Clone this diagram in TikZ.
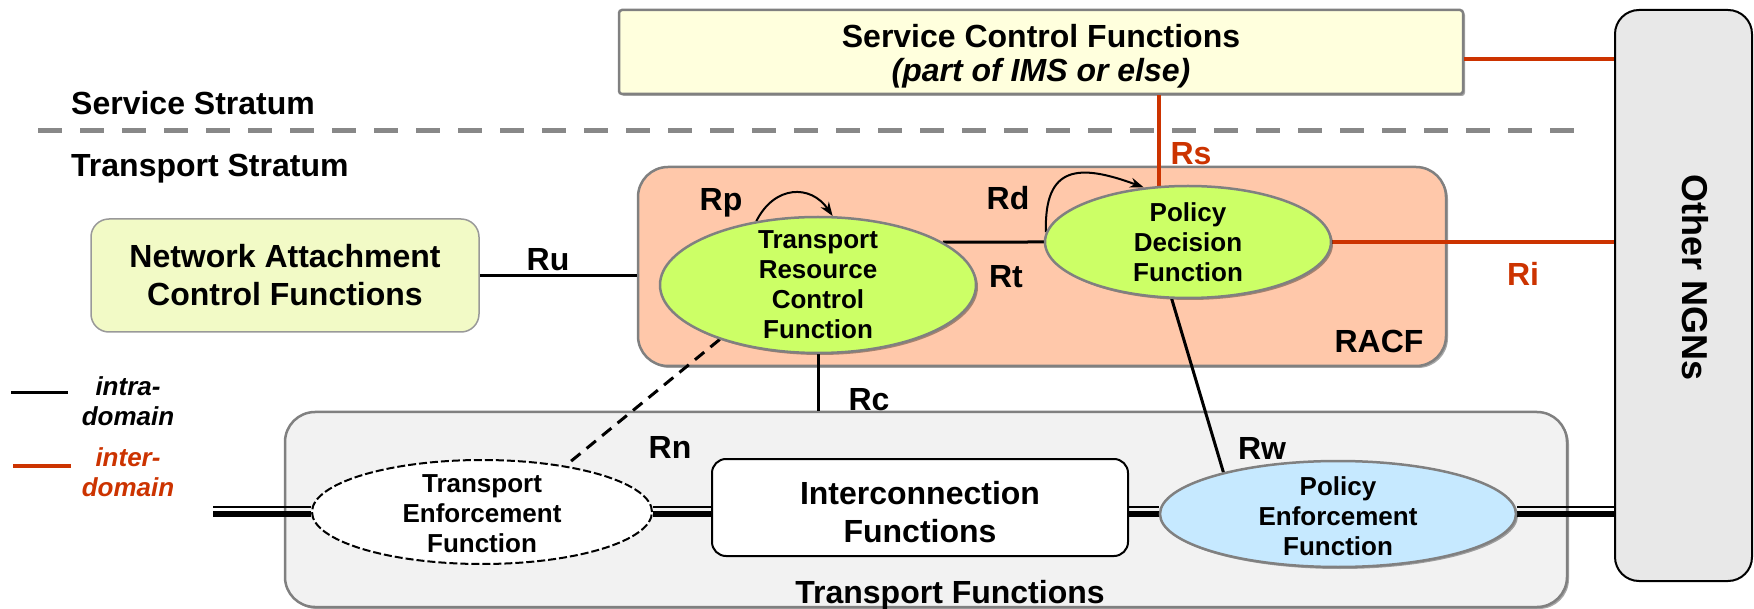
\documentclass[tikz,border=0pt]{standalone}
\usepackage{fontspec}
\setmainfont{Liberation Sans}
\usetikzlibrary{shapes.geometric,arrows.meta,shadows}
\pgfdeclarelayer{bg}
\pgfdeclarelayer{fg}
\pgfsetlayers{bg,main,fg}
\definecolor{scffill}{HTML}{FFFFDD}
\definecolor{racffill}{HTML}{FFC8AA}
\definecolor{nacffill}{HTML}{F2FAC6}
\definecolor{fgreen}{HTML}{CCFF66}
\definecolor{fblue}{HTML}{C6E9FF}
\definecolor{tfill}{HTML}{F2F2F2}
\definecolor{ngnfill}{HTML}{E8E8E8}
\definecolor{xred}{HTML}{CC3300}
\definecolor{edgegray}{HTML}{808080}
\definecolor{stratgray}{HTML}{888888}
\newcommand{\dgBig}{\fontsize{32}{38}\selectfont\bfseries}
\newcommand{\dgScf}{\fontsize{32}{34}\selectfont\bfseries}
\newcommand{\dgMid}{\fontsize{26}{30}\selectfont\bfseries}
\newcommand{\dgNgn}{\fontsize{36}{42}\selectfont\bfseries}
\tikzset{
  panel/.style={rectangle, draw=edgegray, line width=2.5pt, inner sep=0pt, align=center, font=\dgBig},
  oval/.style={ellipse, draw=edgegray, line width=2.5pt, inner sep=0pt},
  ovaltext/.style={align=center, font=\dgMid, inner sep=0pt},
  softshadow/.style={drop shadow={shadow xshift=2pt, shadow yshift=-2pt, opacity=0.35, fill=black}},
  reflabel/.style={anchor=base, font=\dgBig, inner sep=0pt},
  intra/.style={line width=3pt, black},
  inter/.style={line width=4pt, xred},
  trunkthick/.style={line width=6pt, black},
  trunkthin/.style={line width=2pt, black},
  hop/.style={line width=2pt, -{Stealth[length=14pt,width=10pt]}},
}
\begin{document}
\begin{tikzpicture}[x=1pt,y=-1pt]
\useasboundingbox (0,0) rectangle (1754,609);

% boxes and the stratum divider
\begin{pgfonlayer}{bg}
  \coordinate (div-l) at (38,131);
  \coordinate (div-r) at (1575,131);
  \draw[stratgray, line width=5pt, dash pattern=on 24pt off 18pt] (div-l) -- (div-r);
  \node[panel, fill=scffill, rounded corners=3pt, minimum width=844pt, minimum height=84pt, softshadow] (scf) at (1041,52) {};
  \node[rectangle, draw=black, line width=2pt, fill=ngnfill, rounded corners=24pt, minimum width=137pt, minimum height=571pt, inner sep=0pt] (ngn) at (1683.5,295.5) {};
  \node[panel, fill=racffill, rounded corners=30pt, minimum width=808pt, minimum height=199pt, softshadow] (racf) at (1042,266.5) {};
  \node[panel, draw=edgegray!80, line width=1.5pt, fill=nacffill, rounded corners=18pt, minimum width=388pt, minimum height=113pt] (nacf) at (285,275.5)
    {Network Attachment\\Control Functions};
  \node[panel, fill=tfill, rounded corners=30pt, minimum width=1282pt, minimum height=195pt, softshadow] (tf) at (926,509.5) {};
\end{pgfonlayer}

% stratum and area captions
\node[align=center, font=\dgScf, inner sep=0pt] (scf-t) at ([yshift=-4pt]scf)
  {Service Control Functions\\\itshape(part of IMS or else)};
\node[anchor=base west, font=\dgBig, inner sep=0pt] (svc) at (71,115) {Service Stratum};
\node[anchor=base west, font=\dgBig, inner sep=0pt] (trn) at (71,177) {Transport Stratum};
\node[font=\dgNgn, rotate=-90, inner sep=0pt] (ngn-t) at (1695,278) {Other NGNs};
\node[reflabel] (racf-t) at (1379,353) {RACF};
\node[reflabel] (tf-t) at (950,603) {Transport Functions};

% functional entities
\begin{pgfonlayer}{fg}
  \node[oval, fill=fgreen, minimum width=316pt, minimum height=136pt, softshadow] (trcf) at (818,285) {};
  \node[ovaltext] (trcf-t) at (trcf) {Transport\\Resource\\Control\\Function};
  \node[oval, fill=fgreen, minimum width=286pt, minimum height=112pt, softshadow] (pdf) at (1188,242) {};
  \node[ovaltext] (pdf-t) at (pdf) {Policy\\Decision\\Function};
  \node[oval, draw=black, line width=2pt, dash pattern=on 8pt off 3pt, fill=white, minimum width=340pt, minimum height=104pt] (tef) at (482,512) {};
  \node[ovaltext] (tef-t) at ([yshift=-2pt]tef) {Transport\\Enforcement\\Function};
  \node[rectangle, draw=black, line width=2pt, fill=white, rounded corners=14pt, minimum width=416pt, minimum height=97pt, inner sep=0pt] (ic) at (920,507.5) {};
  \node[align=center, font=\dgBig, inner sep=0pt] (ic-t) at ([yshift=-5pt]ic) {Interconnection\\Functions};
  \node[oval, fill=fblue, minimum width=356pt, minimum height=106pt, softshadow] (pef) at (1338,514) {};
  \node[ovaltext] (pef-t) at ([yshift=-2pt]pef) {Policy\\Enforcement\\Function};
\end{pgfonlayer}

% reference points
\draw[intra] (nacf.east) -- (nacf.east -| racf.west);
\draw[intra] (trcf.19) -- (pdf.west);
\draw[intra] (trcf.south) -- (trcf.south |- tf.north);
\draw[intra] (pdf.254) -- (pef.160);
\draw[intra, dash pattern=on 12pt off 8pt] (trcf.209) -- (tef.29);
\draw[inter] (pdf.117) -- (pdf.117 |- scf.south);
\draw[inter] (pdf.east) -- (pdf.east -| ngn.west);
\coordinate (scf-r) at ([yshift=-7pt]scf.east);
\draw[inter] (scf-r) -- (scf-r -| ngn.west);
\draw[hop] (trcf.134) .. controls +(18,-36) and +(-22,-32) .. (trcf.78);
\draw[hop] (pdf.176) .. controls +(-2,-67) and +(-65,-24) .. (pdf.129);

% transport path through the enforcement points
\coordinate (trunk-in) at (213,512);
\coordinate (t1) at (tef.east -| ic.west);
\coordinate (t2) at (ic.east |- tef.east);
\coordinate (t3) at (pef.west |- tef.east);
\coordinate (t4) at (pef.east |- tef.east);
\coordinate (t5) at (ngn.west |- tef.east);
\foreach \a/\b in {trunk-in/tef.west, tef.east/t1, t2/t3, t4/t5} {
  \draw[trunkthick] ([yshift=-2pt]\a) -- ([yshift=-2pt]\b);
  \draw[trunkthin] ([yshift=5pt]\a) -- ([yshift=5pt]\b);
}

% reference point names
\node[reflabel] (rp) at (721,211) {Rp};
\node[reflabel] (rd) at (1008,210) {Rd};
\node[reflabel] (rt) at (1006,288) {Rt};
\node[reflabel, text=xred] (rs) at (1191,165) {Rs};
\node[reflabel, text=xred] (ri) at (1523,286) {Ri};
\node[reflabel] (ru) at (548,271) {Ru};
\node[reflabel] (rc) at (869,410) {Rc};
\node[reflabel] (rn) at (670,458) {Rn};
\node[reflabel] (rw) at (1262,459) {Rw};

% legend
\coordinate (leg1a) at (11,393);
\coordinate (leg1b) at (68,393);
\coordinate (leg2a) at (13,466);
\coordinate (leg2b) at (71,466);
\draw[intra] (leg1a) -- (leg1b);
\draw[inter] (leg2a) -- (leg2b);
\node[font=\dgMid\itshape, align=center, inner sep=0pt] (leg-intra) at (128,401) {intra-\\domain};
\node[font=\dgMid\itshape, align=center, inner sep=0pt, text=xred] (leg-inter) at (128,472) {inter-\\domain};
\end{tikzpicture}
\end{document}
